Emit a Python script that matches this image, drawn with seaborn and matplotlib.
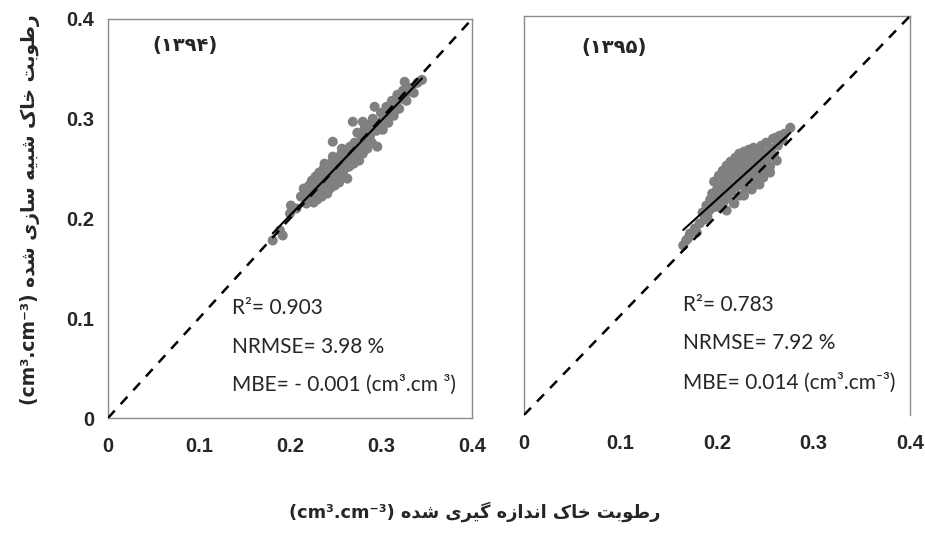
import numpy as np
import pandas as pd
import matplotlib
matplotlib.use("Agg")
import matplotlib.pyplot as plt
import seaborn as sns

# ---------------- data ----------------
x_1394 = [0.181, 0.189, 0.192, 0.200, 0.201, 0.207, 0.212, 0.215, 0.218, 0.219,
          0.221, 0.222, 0.224, 0.225, 0.226, 0.228, 0.229, 0.230, 0.231, 0.232,
          0.234, 0.235, 0.236, 0.237, 0.238, 0.240, 0.241, 0.242, 0.243, 0.244,
          0.245, 0.246, 0.247, 0.248, 0.249, 0.250, 0.251, 0.252, 0.254, 0.255,
          0.256, 0.257, 0.258, 0.259, 0.260, 0.262, 0.263, 0.264, 0.265, 0.266,
          0.268, 0.269, 0.270, 0.271, 0.273, 0.274, 0.276, 0.277, 0.279, 0.280,
          0.282, 0.283, 0.285, 0.286, 0.288, 0.290, 0.291, 0.293, 0.295, 0.296,
          0.298, 0.300, 0.302, 0.304, 0.306, 0.308, 0.310, 0.312, 0.314, 0.316,
          0.318, 0.320, 0.322, 0.324, 0.326, 0.328, 0.330, 0.333, 0.336, 0.340,
          0.345, 0.232, 0.239, 0.245, 0.253, 0.261, 0.267, 0.272, 0.278, 0.284,
          0.289, 0.297, 0.303, 0.313, 0.323, 0.247, 0.257, 0.238, 0.280, 0.228,
          0.235]
y_1394 = [0.178, 0.188, 0.183, 0.205, 0.213, 0.210, 0.222, 0.230, 0.215, 0.226,
          0.233, 0.219, 0.238, 0.228, 0.216, 0.242, 0.224, 0.219, 0.235, 0.246,
          0.229, 0.222, 0.240, 0.250, 0.232, 0.244, 0.225, 0.252, 0.237, 0.230,
          0.248, 0.256, 0.277, 0.241, 0.233, 0.253, 0.245, 0.260, 0.236, 0.250,
          0.264, 0.243, 0.256, 0.248, 0.268, 0.258, 0.240, 0.262, 0.252, 0.272,
          0.262, 0.297, 0.255, 0.276, 0.266, 0.286, 0.258, 0.273, 0.282, 0.265,
          0.290, 0.276, 0.270, 0.294, 0.283, 0.276, 0.300, 0.312, 0.288, 0.272,
          0.296, 0.306, 0.289, 0.300, 0.312, 0.296, 0.308, 0.318, 0.303, 0.314,
          0.324, 0.310, 0.320, 0.328, 0.337, 0.318, 0.327, 0.331, 0.326, 0.336,
          0.339, 0.238, 0.241, 0.240, 0.252, 0.256, 0.265, 0.270, 0.277, 0.284,
          0.290, 0.294, 0.303, 0.311, 0.322, 0.262, 0.270, 0.255, 0.297, 0.233,
          0.244]

x_1395 = [0.165, 0.168, 0.170, 0.172, 0.177, 0.179, 0.182, 0.185, 0.187, 0.189,
          0.190, 0.192, 0.193, 0.195, 0.196, 0.197, 0.198, 0.200, 0.201, 0.202,
          0.203, 0.204, 0.205, 0.206, 0.207, 0.208, 0.209, 0.210, 0.211, 0.212,
          0.213, 0.214, 0.215, 0.216, 0.217, 0.218, 0.219, 0.220, 0.221, 0.222,
          0.223, 0.224, 0.225, 0.226, 0.227, 0.228, 0.229, 0.230, 0.231, 0.232,
          0.233, 0.234, 0.235, 0.237, 0.238, 0.239, 0.240, 0.242, 0.243, 0.245,
          0.246, 0.247, 0.249, 0.250, 0.251, 0.253, 0.255, 0.256, 0.258, 0.259,
          0.261, 0.263, 0.265, 0.268, 0.270, 0.276, 0.240, 0.248, 0.255, 0.236,
          0.228, 0.218, 0.262, 0.210, 0.244, 0.252]
y_1395 = [0.170, 0.175, 0.177, 0.182, 0.187, 0.183, 0.192, 0.203, 0.196, 0.210,
          0.199, 0.205, 0.216, 0.222, 0.208, 0.234, 0.214, 0.226, 0.219, 0.240,
          0.208, 0.230, 0.222, 0.245, 0.214, 0.236, 0.228, 0.250, 0.219, 0.241,
          0.233, 0.254, 0.224, 0.246, 0.213, 0.238, 0.258, 0.229, 0.250, 0.242,
          0.262, 0.220, 0.254, 0.234, 0.246, 0.264, 0.228, 0.257, 0.240, 0.250,
          0.266, 0.236, 0.259, 0.247, 0.268, 0.242, 0.256, 0.250, 0.263, 0.239,
          0.270, 0.255, 0.262, 0.248, 0.273, 0.258, 0.249, 0.267, 0.277, 0.260,
          0.278, 0.270, 0.280, 0.276, 0.282, 0.288, 0.232, 0.238, 0.243, 0.226,
          0.220, 0.212, 0.255, 0.205, 0.231, 0.244]

ticks = [0, 0.1, 0.2, 0.3, 0.4]
tick_labels = ["0", "0.1", "0.2", "0.3", "0.4"]
panel_titles = ["(۱۳۹۴)", "(۱۳۹۵)"]
stats_1394 = ["R²= 0.903", "NRMSE= 3.98 %", "MBE= - 0.001 (cm³.cm ³)"]
stats_1395 = ["R²= 0.783", "NRMSE= 7.92 %", "MBE= 0.014 (cm³.cm⁻³)"]
ylabel_fa = "رطوبت خاک شبیه سازی شده"
xlabel_fa = "رطوبت خاک اندازه گیری شده"
unit = "(cm³.cm⁻³)"

# ---------------- minimal Persian shaping for matplotlib ----------------
FORMS = {  # iso, fin, ini, med
    "\u0627": ("\uFE8D", "\uFE8E", None, None),
    "\u0628": ("\uFE8F", "\uFE90", "\uFE91", "\uFE92"),
    "\u062A": ("\uFE95", "\uFE96", "\uFE97", "\uFE98"),
    "\u062E": ("\uFEA5", "\uFEA6", "\uFEA7", "\uFEA8"),
    "\u062F": ("\uFEA9", "\uFEAA", None, None),
    "\u0631": ("\uFEAD", "\uFEAE", None, None),
    "\u0632": ("\uFEAF", "\uFEB0", None, None),
    "\u0633": ("\uFEB1", "\uFEB2", "\uFEB3", "\uFEB4"),
    "\u0634": ("\uFEB5", "\uFEB6", "\uFEB7", "\uFEB8"),
    "\u0637": ("\uFEC1", "\uFEC2", "\uFEC3", "\uFEC4"),
    "\u0646": ("\uFEE5", "\uFEE6", "\uFEE7", "\uFEE8"),
    "\u0647": ("\uFEE9", "\uFEEA", "\uFEEB", "\uFEEC"),
    "\u0648": ("\uFEED", "\uFEEE", None, None),
    "\u06A9": ("\uFB8E", "\uFB8F", "\uFB90", "\uFB91"),
    "\u06AF": ("\uFB92", "\uFB93", "\uFB94", "\uFB95"),
    "\u06CC": ("\uFBFC", "\uFBFD", "\uFBFE", "\uFBFF"),
}


def dual(c):
    return c in FORMS and FORMS[c][2] is not None


def shape(text):
    out = []
    for i, c in enumerate(text):
        if c not in FORMS:
            out.append(c)
            continue
        prev = text[i - 1] if i > 0 else ""
        nxt = text[i + 1] if i + 1 < len(text) else ""
        jp = dual(prev)
        jn = dual(c) and nxt in FORMS
        iso, fin, ini, med = FORMS[c]
        if jp and jn:
            out.append(med)
        elif jp:
            out.append(fin)
        elif jn:
            out.append(ini)
        else:
            out.append(iso)
    return "".join(out)[::-1]


# ---------------- plot ----------------
sns.set_style("white")
plt.rcParams["font.family"] = ["DejaVu Sans"]

fig = plt.figure(figsize=(9.25, 5.33), dpi=100)
ax1 = fig.add_axes([108 / 925, 1 - 418 / 533, 364 / 925, 399 / 533])
ax2 = fig.add_axes([524 / 925, 1 - 415 / 533, 386 / 925, 399 / 533])

spine_col = "#8c8c8c"
datasets = [(ax1, x_1394, y_1394, stats_1394, panel_titles[0]),
            (ax2, x_1395, y_1395, stats_1395, panel_titles[1])]

for k, (ax, xs, ys, stats, ttl) in enumerate(datasets):
    df = pd.DataFrame({"measured": xs, "simulated": ys})
    sns.regplot(data=df, x="measured", y="simulated", ax=ax, ci=None,
                scatter_kws=dict(s=52, color="#808080", edgecolor="none",
                                 alpha=1, zorder=2),
                line_kws=dict(color="black", lw=1.5, zorder=4))
    sns.lineplot(x=[0, 0.4], y=[0, 0.4], ax=ax, color="black", lw=1.8,
                 linestyle=(0, (4, 3.5)), zorder=3)
    ax.set_xlim(0, 0.4)
    ax.set_ylim(0, 0.4)
    ax.set_xticks(ticks)
    ax.set_yticks(ticks)
    ax.set_xlabel("")
    ax.set_ylabel("")
    for s in ax.spines.values():
        s.set_color(spine_col)
        s.set_linewidth(1.0)
    ax.tick_params(axis="both", which="both", direction="out", length=7,
                   width=1, color=spine_col)
    ax.tick_params(axis="x", pad=7)
    ax.tick_params(axis="y", pad=3)
    ax.set_xticklabels(tick_labels, fontsize=14.5, fontweight="bold",
                       family="Liberation Sans")
    if k == 0:
        ax.set_yticklabels(tick_labels, fontsize=14.5, fontweight="bold",
                           family="Liberation Sans")
    else:
        ax.set_yticklabels([])
        ax.spines["bottom"].set_visible(False)
    ax.grid(False)

# panel titles
fig.text(185 / 925, 1 - 46 / 533, panel_titles[0], ha="center", va="center",
         fontsize=14, fontweight="bold", family=["DejaVu Sans"])
fig.text(614 / 925, 1 - 48 / 533, panel_titles[1], ha="center", va="center",
         fontsize=14, fontweight="bold", family=["DejaVu Sans"])

# stats text
for yy, s in zip([308, 347, 385], stats_1394):
    fig.text(232 / 925, 1 - yy / 533, s, ha="left", va="center",
             fontsize=15, family=["Lato", "DejaVu Sans"])
for yy, s in zip([305, 343, 383], stats_1395):
    fig.text(683 / 925, 1 - yy / 533, s, ha="left", va="center",
             fontsize=15, family=["Lato", "DejaVu Sans"])

# axis titles
fig.text(475 / 925, 1 - 512 / 533, unit + " " + shape(xlabel_fa),
         ha="center", va="center", fontsize=12.8, fontweight="bold",
         family=["DejaVu Sans"])
fig.text(30 / 925, 1 - 210 / 533, unit + " " + shape(ylabel_fa),
         ha="center", va="center", rotation=90, fontsize=13.5,
         fontweight="bold", family=["DejaVu Sans"])

fig.savefig("out.png", dpi=100, facecolor="white")
